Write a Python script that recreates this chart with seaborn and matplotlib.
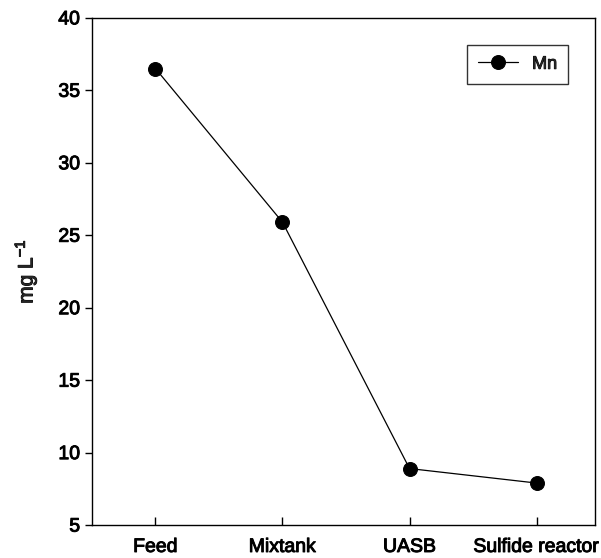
import pandas as pd
import matplotlib.pyplot as plt
import matplotlib.patheffects as pe
import seaborn as sns

# valores
etapas = ['Feed', 'Mixtank', 'UASB', 'Sulfide reactor']
mn = [36.5, 25.9, 8.9, 7.9]

df = pd.DataFrame({'etapa': etapas, 'Mn': mn})

sns.set_theme(style='ticks')
plt.rcParams['font.family'] = ['Liberation Sans', 'DejaVu Sans']
plt.rcParams['mathtext.default'] = 'regular'

fig = plt.figure(figsize=(6.01, 5.58), dpi=100)
ax = fig.add_axes([0.153, 0.059, 0.837, 0.909])

sns.lineplot(data=df, x='etapa', y='Mn', sort=False, marker='o', color='black',
             linewidth=0.9, markersize=10, markeredgecolor='black', label='Mn', ax=ax)

ax.set_xlim(-0.5, 3.46)
ax.set_ylim(5, 40)
ax.set_yticks([5, 10, 15, 20, 25, 30, 35, 40])
ax.set_xlabel('')
ax.set_ylabel('mg L$^{-1}$', fontsize=15, labelpad=14)

ax.tick_params(axis='y', direction='out', length=5, width=1, labelsize=14, colors='black')
ax.tick_params(axis='x', direction='in', length=6, width=1, labelsize=14, colors='black', pad=10)
for s in ax.spines.values():
    s.set_color('black')
    s.set_linewidth(1)

leg = ax.legend(loc='upper right', fontsize=13, frameon=True, fancybox=False,
                borderaxespad=1.5, handlelength=2.2, borderpad=0.6)
leg.get_frame().set_edgecolor('black')
leg.get_frame().set_linewidth(1)

# texto un poco mas grueso, como en el original escaneado
grueso = [pe.withStroke(linewidth=0.7, foreground='black')]
for t in ax.get_xticklabels() + ax.get_yticklabels() + leg.get_texts() + [ax.yaxis.label]:
    t.set_path_effects(grueso)

fig.savefig('out.png', dpi=100)
